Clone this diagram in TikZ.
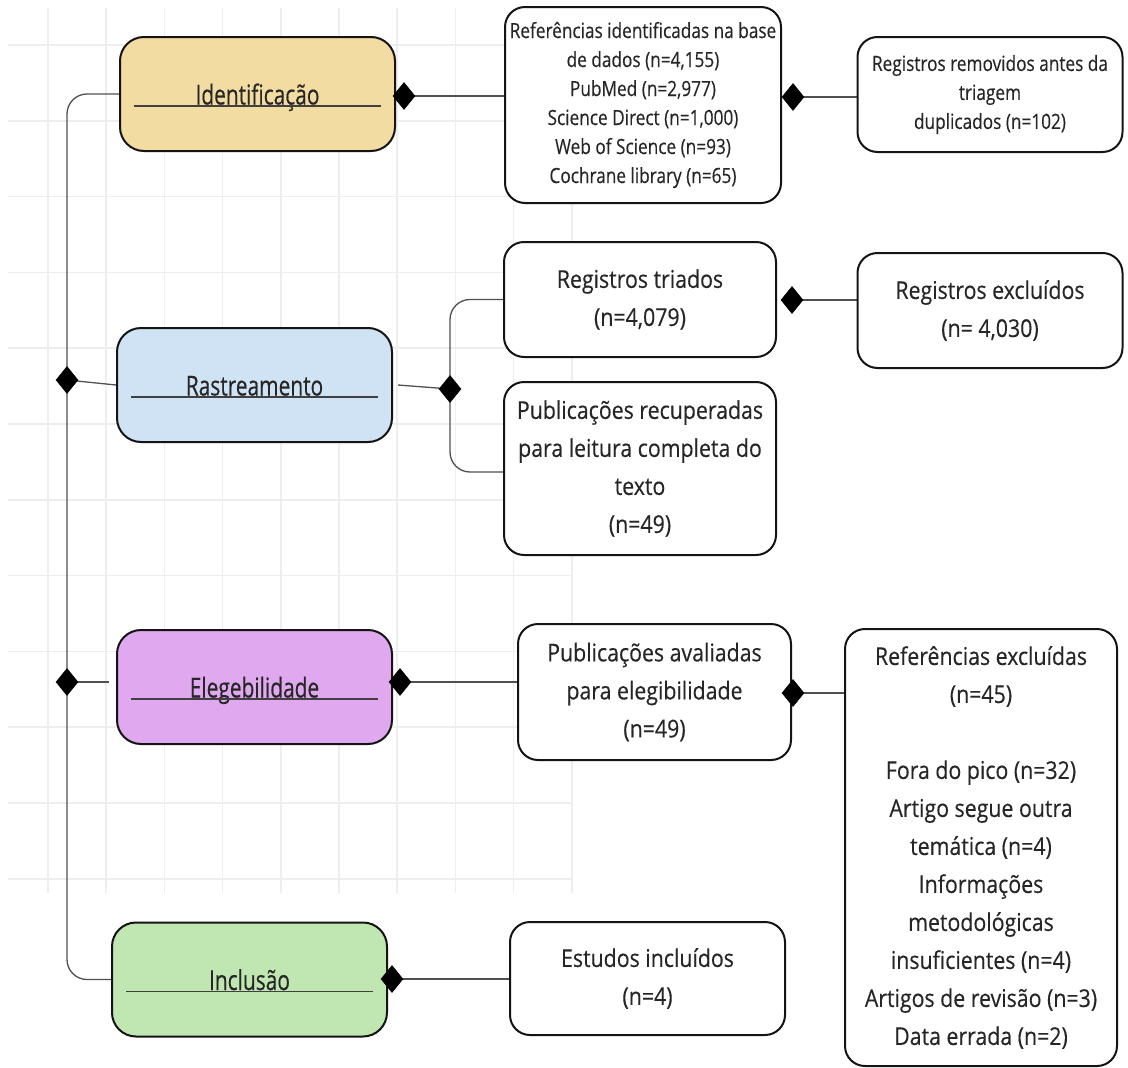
\documentclass[tikz,border=0pt]{standalone}
\usepackage{fontspec}
\setmainfont{Open Sans}[FakeStretch=0.76]
\newfontfamily\bodyfont{Open Sans}[FakeStretch=0.87,FakeBold=0.3]
\newfontfamily\smallfont{Open Sans}[FakeStretch=0.82,FakeBold=0.3]
\newfontfamily\stagefont{Open Sans}[FakeStretch=0.76,FakeBold=0.3]
\usetikzlibrary{shapes.geometric}
\pgfdeclarelayer{gridlayer}
\pgfdeclarelayer{connlayer}
\pgfsetlayers{gridlayer,connlayer,main}
\definecolor{cId}{HTML}{F2DCA2}
\definecolor{cRa}{HTML}{CFE3F5}
\definecolor{cEl}{HTML}{E0A8EE}
\definecolor{cIn}{HTML}{C0E6B2}
\definecolor{txt}{HTML}{262626}
\definecolor{lnc}{HTML}{505050}
\definecolor{grd}{HTML}{EEEEEE}
\tikzset{
  stage/.style={draw=black!92, line width=2pt, rounded corners=24pt,
    minimum width=275pt, minimum height=114pt, inner sep=0pt, text=txt,
    font=\stagefont\fontsize{27.5}{33}\selectfont, text height=26pt, text depth=5pt},
  box/.style={draw=black!92, line width=2pt, rounded corners=20pt, fill=white,
    align=center, inner sep=0pt, text=txt},
  big/.style={font=\bodyfont\fontsize{24.5}{38}\selectfont},
  small/.style={font=\smallfont\fontsize{21}{29}\selectfont},
  conn/.style={draw=lnc, line width=1.3pt},
  uline/.style={draw=black!75, line width=1.3pt},
  dmd/.style={diamond, fill=black, draw=black, line width=0.6pt, minimum width=22pt,
    minimum height=27pt, inner sep=0pt},
  gridl/.style={draw=grd, line width=1.6pt}
}
\begin{document}
\begin{tikzpicture}[x=1pt,y=-1pt]
\useasboundingbox (0,0) rectangle (1128,1068);
\begin{pgfonlayer}{gridlayer}
\fill[white] (0,0) rectangle (1128,1068);
\foreach \i in {0,...,9} \draw[gridl] (48+58.2*\i,8) -- (48+58.2*\i,893);
\foreach \j in {0,...,11} \draw[gridl] (8,45+75.8*\j) -- (572,45+75.8*\j);
\end{pgfonlayer}

% stage boxes
\node[stage, fill=cId] (idn) at (257.5,94) {Identificação};
\node[stage, fill=cRa] (ras) at (254.5,385) {Rastreamento};
\node[stage, fill=cEl] (ele) at (254.5,687) {Elegebilidade};
\node[stage, fill=cIn] (inc) at (249.5,979.5) {Inclusão};
\foreach \s in {idn,ras,ele,inc}
  \draw[uline] ([shift={(15,12)}]\s.west) -- ([shift={(-15,12)}]\s.east);

% content boxes
\node[box, small, minimum width=276pt, minimum height=196pt] (ref) at (643,105)
  {Referências identificadas na base\\ de dados (n=4,155)\\ PubMed (n=2,977)\\ Science Direct (n=1,000)\\ Web of Science (n=93)\\ Cochrane library (n=65)};
\node[box, small, minimum width=265pt, minimum height=115pt] (rem) at (990,94.5)
  {Registros removidos antes da\\ triagem\\ duplicados (n=102)};
\node[box, big, minimum width=272pt, minimum height=115pt] (tri) at (640,299.5)
  {Registros triados\\ (n=4,079)};
\node[box, big, minimum width=265pt, minimum height=115pt] (exc) at (990,310.5)
  {Registros excluídos\\ (n= 4,030)};
\node[box, big, minimum width=272pt, minimum height=173pt] (rec) at (640,468.5)
  {Publicações recuperadas\\ para leitura completa do\\ texto\\ (n=49)};
\node[box, big, minimum width=273pt, minimum height=136pt] (ava) at (654.5,692)
  {Publicações avaliadas\\ para elegibilidade\\ (n=49)};
\node[box, big, minimum width=272pt, minimum height=437pt] (rex) at (981,847.5)
  {Referências excluídas\\ (n=45)\\[38pt] Fora do pico (n=32)\\ Artigo segue outra\\ temática (n=4)\\ Informações\\ metodológicas\\ insuficientes (n=4)\\ Artigos de revisão (n=3)\\ Data errada (n=2)};
\node[box, big, minimum width=275pt, minimum height=113pt] (est) at (647.5,978.5)
  {Estudos incluídos\\ (n=4)};

% diamonds
\node[dmd] (dId) at (404,96) {};
\node[dmd] (dRef) at (793,97) {};
\node[dmd] (dTri) at (792,300) {};
\node[dmd] (dRas) at (450,389) {};
\node[dmd] (dAva) at (793,693) {};
\node[dmd] (dEle) at (400,682) {};
\node[dmd] (dInc) at (392,979) {};
\node[dmd] (dS1) at (67,380) {};
\node[dmd] (dS2) at (67,682) {};

% connectors
\begin{pgfonlayer}{connlayer}
\draw[conn, rounded corners=20pt] (idn.west) -| (dS1.center) |- (inc.west);
\draw[conn] (dS1.center) -- (ras.west);
\draw[conn] (dS2.center) -- ([xshift=-7pt]dS2 -| ele.west);
\draw[conn] (dId.center) -- (dId -| ref.west);
\draw[conn] (dRef.center) -- (dRef -| rem.west);
\draw[conn] (dTri.center) -- (dTri -| exc.west);
\draw[conn] ([xshift=5pt]ras.east) -- (dRas.center);
\draw[conn, rounded corners=20pt] (tri.west) -| (dRas.center) |- ([yshift=-3.5pt]rec.west);
\draw[conn] (dEle.center) -- (dEle -| ava.west);
\draw[conn] (dAva.center) -- (dAva -| rex.west);
\draw[conn] (dInc.center) -- (dInc -| est.west);
\end{pgfonlayer}
\end{tikzpicture}
\end{document}
